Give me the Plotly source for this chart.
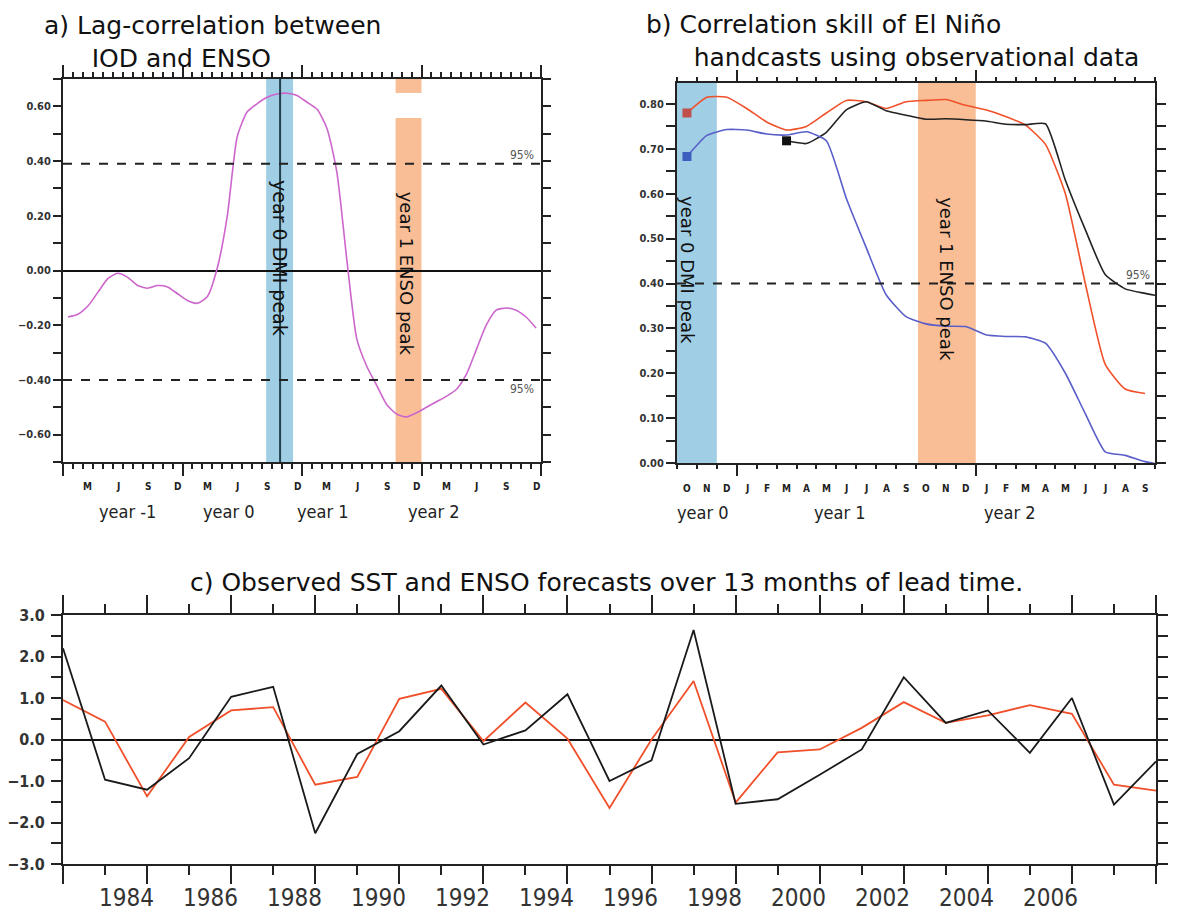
import plotly.graph_objects as go

# screenshot window and page offset (default body margin of the html page)
WIN_W, WIN_H = 1187, 919
OFF = 8
W, H = WIN_W - 2 * OFF, WIN_H - 2 * OFF

# ---------------- data: panel a (lag correlation, 48 months, year -1 .. year 2)
a_month_index = list(range(48))
a_corr = [-0.17, -0.16, -0.13, -0.08, -0.03, -0.01, -0.025, -0.055, -0.065, -0.055, -0.06, -0.085,
          -0.11, -0.12, -0.095, 0.01, 0.20, 0.49, 0.58, 0.61, 0.633, 0.645, 0.648, 0.64,
          0.615, 0.59, 0.52, 0.36, 0.04, -0.25, -0.35, -0.42, -0.49, -0.525, -0.535, -0.52,
          -0.50, -0.48, -0.46, -0.435, -0.38, -0.29, -0.20, -0.145, -0.137, -0.145, -0.17, -0.21]
a_sig = [0.39, -0.40]
a_dmi_band = [20.4, 23.1]
a_dmi_line = 21.8
a_enso_band = [33.4, 36.0]
a_enso_band_gap = [0.557, 0.649]
a_month_letters = ["J", "F", "M", "A", "M", "J", "J", "A", "S", "O", "N", "D"]
a_year_labels = ["year -1", "year 0", "year 1", "year 2"]

# ---------------- data: panel b (correlation skill, Oct year0 .. Sep year2)
b_month_letters = ["O", "N", "D", "J", "F", "M", "A", "M", "J", "J", "A", "S",
                   "O", "N", "D", "J", "F", "M", "A", "M", "J", "J", "A", "S"]
b_red = [0.78, 0.815, 0.815, 0.79, 0.76, 0.742, 0.75, 0.78, 0.808, 0.805, 0.79, 0.805,
         0.808, 0.81, 0.797, 0.787, 0.772, 0.753, 0.71, 0.60, 0.40, 0.22, 0.165, 0.155]
b_blue = [0.683, 0.73, 0.743, 0.742, 0.733, 0.731, 0.738, 0.718, 0.59, 0.48, 0.375, 0.326,
          0.31, 0.305, 0.304, 0.286, 0.282, 0.281, 0.267, 0.20, 0.11, 0.025, 0.017, 0.003, -0.005]
b_black_start = 5
b_black = [0.718, 0.712, 0.737, 0.787, 0.805, 0.785, 0.775, 0.766, 0.767, 0.765, 0.762,
           0.755, 0.754, 0.756, 0.63, 0.52, 0.42, 0.388, 0.378, 0.37]
b_sig = 0.40
b_dmi_band = [0.0, 2.0]
b_enso_band = [12.1, 15.0]
b_year_labels = ["year 0", "year 1", "year 2"]

# ---------------- data: panel c (observed SST vs forecasts)
c_first_year = 1982.5
c_obs = [2.2, -0.97, -1.21, -0.45, 1.03, 1.27, -2.26, -0.35, 0.2, 1.3, -0.12, 0.22, 1.09,
         -1.0, -0.5, 2.64, -1.55, -1.44, -0.85, -0.24, 1.5, 0.4, 0.7, -0.32, 1.0, -1.57, -0.53]
c_fcst = [0.95, 0.43, -1.37, 0.06, 0.7, 0.78, -1.09, -0.9, 0.98, 1.22, -0.04, 0.89, 0.02,
          -1.65, 0.0, 1.41, -1.52, -0.31, -0.24, 0.28, 0.9, 0.4, 0.58, 0.83, 0.62, -1.09, -1.23]
c_tick_labels = [1984, 1986, 1988, 1990, 1992, 1994, 1996, 1998, 2000, 2002, 2004, 2006]

# ---------------- styles / layout constants
BLUE_BAND = "rgb(160,206,228)"
ORANGE_BAND = "rgb(249,190,150)"
AX = "#222222"
TITLE_FONT = "DejaVu Sans, Noto Sans, sans-serif"
NARROW = "Liberation Sans Narrow, DejaVu Sans Condensed, Roboto, sans-serif"
NBSP = "&nbsp;"


def px(x):
    return (x - OFF) / W


def py(y):
    return 1 - (y - OFF) / H


a_x = [m + 0.5 for m in a_month_index]
b_x = [m + 0.5 for m in range(len(b_blue))]
b_black_x = [b_black_start + i + 0.5 for i in range(len(b_black))]
c_x = [c_first_year + i for i in range(len(c_obs))]

fig = go.Figure()

# panel a curve
fig.add_trace(go.Scatter(x=a_x, y=a_corr, mode="lines", line=dict(color="#cc66cc", width=1.6, shape="spline", smoothing=0.6),
                         xaxis="x", yaxis="y", showlegend=False, hoverinfo="skip"))

# panel b curves
fig.add_trace(go.Scatter(x=b_x[:len(b_red)], y=b_red, mode="lines", line=dict(color="#f0502a", width=1.6, shape="spline", smoothing=0.5),
                         xaxis="x2", yaxis="y2", showlegend=False))
fig.add_trace(go.Scatter(x=b_black_x, y=b_black, mode="lines", line=dict(color="#222222", width=1.6, shape="spline", smoothing=0.5),
                         xaxis="x2", yaxis="y2", showlegend=False))
fig.add_trace(go.Scatter(x=b_x, y=b_blue, mode="lines", line=dict(color="#5a5ec8", width=1.6, shape="spline", smoothing=0.5),
                         xaxis="x2", yaxis="y2", showlegend=False))
# start markers
fig.add_trace(go.Scatter(x=[b_x[0]], y=[b_red[0]], mode="markers", marker=dict(symbol="square", size=9, color="#c0504d"),
                         xaxis="x2", yaxis="y2", showlegend=False))
fig.add_trace(go.Scatter(x=[b_x[0]], y=[b_blue[0]], mode="markers", marker=dict(symbol="square", size=9, color="#3f5fc0"),
                         xaxis="x2", yaxis="y2", showlegend=False))
fig.add_trace(go.Scatter(x=[b_black_x[0]], y=[b_black[0]], mode="markers", marker=dict(symbol="square", size=9, color="#111111"),
                         xaxis="x2", yaxis="y2", showlegend=False))

# panel c curves
fig.add_trace(go.Scatter(x=c_x, y=c_fcst, mode="lines", line=dict(color="#f0502a", width=1.8),
                         xaxis="x3", yaxis="y3", showlegend=False))
fig.add_trace(go.Scatter(x=c_x, y=c_obs, mode="lines", line=dict(color="#1a1a1a", width=1.8),
                         xaxis="x3", yaxis="y3", showlegend=False))

shapes = []
# panel a bands
shapes.append(dict(type="rect", xref="x", yref="y domain", x0=a_dmi_band[0], x1=a_dmi_band[1], y0=0, y1=1,
                   fillcolor=BLUE_BAND, line=dict(width=0), layer="below"))
shapes.append(dict(type="rect", xref="x", yref="y", x0=a_enso_band[0], x1=a_enso_band[1], y0=-0.7, y1=a_enso_band_gap[0],
                   fillcolor=ORANGE_BAND, line=dict(width=0), layer="below"))
shapes.append(dict(type="rect", xref="x", yref="y", x0=a_enso_band[0], x1=a_enso_band[1], y0=a_enso_band_gap[1], y1=0.7,
                   fillcolor=ORANGE_BAND, line=dict(width=0), layer="below"))
shapes.append(dict(type="line", xref="x", yref="y domain", x0=a_dmi_line, x1=a_dmi_line, y0=0, y1=1,
                   line=dict(color="#23404f", width=2)))
for s in a_sig:
    shapes.append(dict(type="line", xref="x domain", yref="y", x0=0, x1=1, y0=s, y1=s,
                       line=dict(color="#222222", width=2, dash="dash")))
# panel b bands
shapes.append(dict(type="rect", xref="x2", yref="y2 domain", x0=b_dmi_band[0], x1=b_dmi_band[1], y0=0, y1=1,
                   fillcolor=BLUE_BAND, line=dict(width=0), layer="below"))
shapes.append(dict(type="rect", xref="x2", yref="y2 domain", x0=b_enso_band[0], x1=b_enso_band[1], y0=0, y1=1,
                   fillcolor=ORANGE_BAND, line=dict(width=0), layer="below"))
shapes.append(dict(type="line", xref="x2 domain", yref="y2", x0=0, x1=1, y0=b_sig, y1=b_sig,
                   line=dict(color="#222222", width=2, dash="dash")))

ann = []
TF = dict(family=TITLE_FONT, size=25, color="#111")
# titles
ann.append(dict(text="a) Lag-correlation between<br>" + NBSP * 6 + "IOD and ENSO", x=px(42), y=py(9), xref="paper", yref="paper",
                xanchor="left", yanchor="top", align="left", showarrow=False, font=TF))
ann.append(dict(text="b) Correlation skill of El Niño<br>" + NBSP * 6 + "handcasts using observational data", x=px(644), y=py(8),
                xref="paper", yref="paper", xanchor="left", yanchor="top", align="left", showarrow=False, font=TF))
ann.append(dict(text="c) Observed SST and ENSO forecasts over 13 months of lead time.", x=px(606), y=py(582),
                xref="paper", yref="paper", xanchor="center", yanchor="middle", showarrow=False, font=TF))

# panel a month / year labels
for yr in range(4):
    for m in (2, 5, 8, 11):
        ann.append(dict(text="<b>%s</b>" % a_month_letters[m], x=yr * 12 + m + 0.5, y=py(487), xref="x", yref="paper",
                        yanchor="middle", showarrow=False, font=dict(family=NARROW, size=10, color="#222")))
a_year_label_pos = [6.5, 16.7, 26.1, 37.3]
for t, xp in zip(a_year_labels, a_year_label_pos):
    ann.append(dict(text=t, x=xp, y=py(511), xref="x", yref="paper", yanchor="middle", showarrow=False,
                    font=dict(family=NARROW, size=18, color="#222")))
ann.append(dict(text="year 0 DMI peak", x=a_dmi_line, y=0.045, xref="x", yref="y", textangle=90, showarrow=False,
                font=dict(family=TITLE_FONT, size=19, color="#111")))
ann.append(dict(text="year 1 ENSO peak", x=34.5, y=-0.01, xref="x", yref="y",
                textangle=90, showarrow=False, font=dict(family=TITLE_FONT, size=18, color="#111")))
ann.append(dict(text="95%", x=px(536), y=a_sig[0], xref="paper", yref="y", xanchor="right", yanchor="bottom",
                showarrow=False, font=dict(family=NARROW, size=12, color="#555")))
ann.append(dict(text="95%", x=px(536), y=a_sig[1], xref="paper", yref="y", xanchor="right", yanchor="top",
                showarrow=False, font=dict(family=NARROW, size=12, color="#555")))

# panel b month / year labels
for i, t in enumerate(b_month_letters):
    ann.append(dict(text="<b>%s</b>" % t, x=i + 0.5, y=py(488), xref="x2", yref="paper", yanchor="middle", showarrow=False,
                    font=dict(family=NARROW, size=10, color="#222")))
b_year_label_pos = [1.3, 8.2, 16.7]
for t, xp in zip(b_year_labels, b_year_label_pos):
    ann.append(dict(text=t, x=xp, y=py(512), xref="x2", yref="paper", yanchor="middle", showarrow=False,
                    font=dict(family=NARROW, size=18, color="#222")))
ann.append(dict(text="year 0 DMI peak", x=0.55, y=0.43, xref="x2", yref="y2", textangle=90, showarrow=False,
                font=dict(family=TITLE_FONT, size=18, color="#111")))
ann.append(dict(text="year 1 ENSO peak", x=13.55, y=0.41, xref="x2", yref="y2", textangle=90, showarrow=False,
                font=dict(family=TITLE_FONT, size=18, color="#111")))
ann.append(dict(text="95%", x=px(1152), y=b_sig, xref="paper", yref="y2", xanchor="right", yanchor="bottom",
                showarrow=False, font=dict(family=NARROW, size=12, color="#555")))

# panel c year labels
for yv in c_tick_labels:
    ann.append(dict(text=str(yv), x=yv, y=py(898), xref="x3", yref="paper", yanchor="middle", showarrow=False,
                    font=dict(family=NARROW, size=24, color="#333")))


def xaxis_style(domain, rng, tick0, dtick, ticklen, minor_dtick, minor_len, anchor):
    return dict(domain=domain, range=rng, anchor=anchor, showgrid=False, zeroline=False, automargin=False,
                showline=True, linecolor=AX, linewidth=2, mirror="ticks",
                ticks="outside", tickmode="linear", tick0=tick0, dtick=dtick, ticklen=ticklen,
                tickwidth=2, tickcolor=AX, showticklabels=False, fixedrange=True,
                minor=dict(ticks="outside", tickmode="linear", tick0=tick0, dtick=minor_dtick,
                           ticklen=minor_len, tickwidth=1.5, tickcolor=AX, showgrid=False))


def yaxis_style(domain, rng, tick0, dtick, minor_dtick, ticklen, fmt, fsize, anchor, zeroline, standoff):
    return dict(domain=domain, range=rng, anchor=anchor, showgrid=False, zeroline=zeroline, automargin=False,
                zerolinecolor="#111", zerolinewidth=2,
                showline=True, linecolor=AX, linewidth=2, mirror="ticks",
                ticks="outside", tickmode="linear", tick0=tick0, dtick=dtick, ticklen=ticklen,
                tickwidth=2, tickcolor=AX, tickformat=fmt, fixedrange=True, ticklabelstandoff=standoff,
                tickfont=dict(family=NARROW, size=fsize, color="#333", weight="bold"),
                minor=dict(ticks="outside", tickmode="linear", tick0=0, dtick=minor_dtick,
                           ticklen=ticklen, tickwidth=2, tickcolor=AX, showgrid=False))


fig.update_layout(
    width=W, height=H, margin=dict(l=0, r=0, t=0, b=0, autoexpand=False),
    paper_bgcolor="white", plot_bgcolor="white", showlegend=False,
    xaxis=xaxis_style([px(63), px(541)], [0, 48], 0, 12, 12, 1, 5, "y"),
    yaxis=yaxis_style([py(462), py(79)], [-0.7, 0.7], -0.6, 0.2, 0.1, 8, ".2f", 11, "x", True, 0),
    xaxis2=xaxis_style([px(677), px(1155)], [0, 24], 3, 12, 11, 1, 4, "y2"),
    yaxis2=yaxis_style([py(463), py(83)], [0, 0.8468], 0, 0.1, 0.05, 9, ".2f", 11, "x2", False, 0),
    xaxis3=xaxis_style([px(63), px(1156)], [1982.5, 2008.5], 1982.5, 2, 18, 1, 9, "y3"),
    yaxis3=yaxis_style([py(864), py(615)], [-3, 3], 0, 1, 0.5, 10, ".1f", 16, "x3", True, 3),
    shapes=shapes, annotations=ann,
)

fig.write_html("out.html")
